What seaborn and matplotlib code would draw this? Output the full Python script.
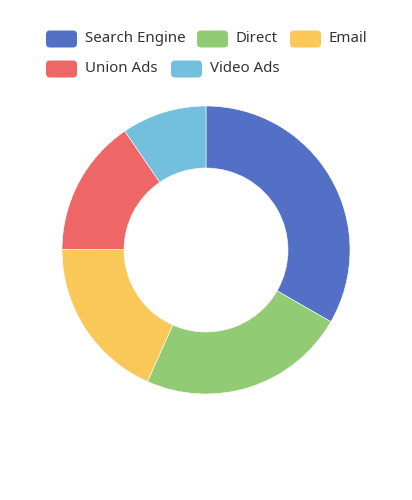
import matplotlib
matplotlib.use("Agg")
import matplotlib.pyplot as plt
from matplotlib.patches import FancyBboxPatch
import seaborn as sns

# data
sources = ['Search Engine', 'Direct', 'Email', 'Union Ads', 'Video Ads']
visits = [1048, 735, 580, 484, 300]

colors = sns.color_palette(['#5470c6', '#91cc75', '#fac858', '#ee6666', '#73c0de'])

sns.set_theme(style='white')
plt.rcParams['font.family'] = ['Noto Sans', 'DejaVu Sans']

W, H = 412, 500
fig = plt.figure(figsize=(W / 100, H / 100), dpi=100)
ax = fig.add_axes([0, 0, 1, 1])
ax.set_xlim(0, W)
ax.set_ylim(0, H)
ax.set_aspect('equal')
ax.axis('off')

# donut
ax.pie(visits, colors=colors, center=(206, H - 250), radius=144,
       startangle=90, counterclock=False,
       wedgeprops={'width': 62, 'edgecolor': 'white', 'linewidth': 0.4})
ax.set_xlim(0, W)
ax.set_ylim(0, H)

# legend laid out like the echarts one (two rows)
rect_x = [46, 197, 290, 46, 171]
row_y = [39, 39, 39, 69, 69]
for name, c, x, y in zip(sources, colors, rect_x, row_y):
    yy = H - y
    ax.add_patch(FancyBboxPatch((x, yy - 8.5), 31, 17,
                                boxstyle='round,pad=0,rounding_size=4',
                                facecolor=c, edgecolor='none'))
    ax.text(x + 39, yy, name, fontsize=10.8, color='#333333',
            va='center', ha='left')

fig.savefig('out.png', dpi=100)
